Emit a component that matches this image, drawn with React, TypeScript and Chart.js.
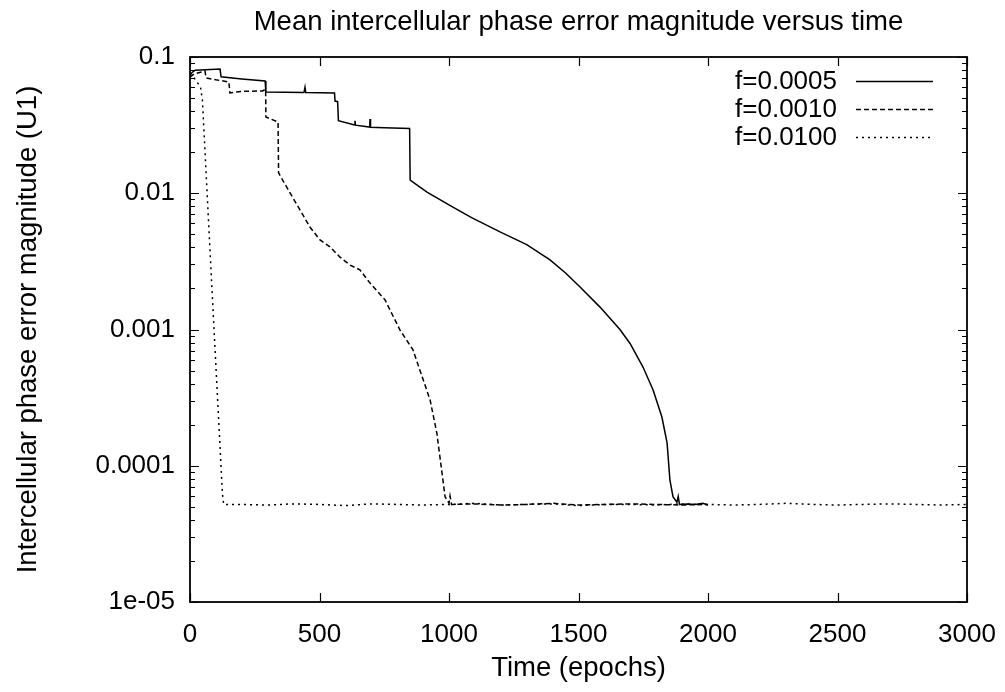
import React, { useEffect, useRef } from 'react';
import { Chart, registerables } from 'chart.js';

Chart.register(...registerables);

const FONT = "'Liberation Sans', Arial, Helvetica, sans-serif";

const titleText = 'Mean intercellular phase error magnitude versus time';
const xTitle = 'Time (epochs)';
const yTitle = 'Intercellular phase error magnitude (U1)';

const xTickValues = [0, 500, 1000, 1500, 2000, 2500, 3000];
const yTickValues = [1e-5, 1e-4, 1e-3, 1e-2, 1e-1];
const yTickLabels = ['1e-05', '0.0001', '0.001', '0.01', '0.1'];

const seriesLabels = ['f=0.0005', 'f=0.0010', 'f=0.0100'];

// f = 0.0005 (solid)
const tA = [0, 8, 20, 60, 116, 120, 200, 290, 293, 440, 444, 447, 558, 560, 570, 573, 636, 637, 639, 694, 695, 697, 750, 848, 850, 915, 1015, 1089, 1197, 1300, 1390, 1450, 1506, 1583, 1660, 1699, 1749, 1788, 1822, 1842, 1853, 1865, 1880, 1885, 1890, 1920, 1950, 1980, 2000];
const vA = [0.074, 0.077, 0.08, 0.0805, 0.0815, 0.0715, 0.069, 0.0667, 0.0553, 0.0548, 0.06, 0.0548, 0.0544, 0.0475, 0.047, 0.0341, 0.0317, 0.034, 0.0316, 0.0306, 0.035, 0.0305, 0.0303, 0.0299, 0.0125, 0.0102, 0.0079, 0.0066, 0.0052, 0.0042, 0.00324, 0.0026, 0.00205, 0.00146, 0.001, 0.00079, 0.00053, 0.00036, 0.000228, 0.000147, 0.0000785, 0.000059, 0.000054, 0.0000595, 0.000052, 0.0000525, 0.000052, 0.000053, 0.0000515];

// f = 0.0010 (dashed)
const tB = [0, 15, 58, 62, 100, 150, 154, 200, 280, 292, 293, 340, 342, 398, 425, 463, 502, 541, 579, 618, 656, 695, 753, 811, 861, 927, 953, 973, 985, 1000, 1004, 1010, 1100, 1200, 1300, 1400, 1500, 1600, 1700, 1800, 1900, 2000];
const vB = [0.071, 0.075, 0.0789, 0.0702, 0.068, 0.0656, 0.0545, 0.056, 0.0563, 0.058, 0.0363, 0.0333, 0.0141, 0.0092, 0.00753, 0.00565, 0.00454, 0.00403, 0.0034, 0.00297, 0.00274, 0.00219, 0.00165, 0.00099, 0.000708, 0.000304, 0.000174, 0.0000885, 0.000059, 0.000053, 0.00006, 0.000052, 0.0000525, 0.0000515, 0.000052, 0.000053, 0.0000515, 0.000052, 0.0000525, 0.000052, 0.0000515, 0.000052];

// f = 0.0100 (dotted)
const tC = [0, 10, 25, 40, 48, 60, 80, 100, 115, 125, 130, 200, 300, 400, 500, 600, 700, 800, 900, 1000, 1100, 1200, 1300, 1400, 1500, 1600, 1700, 1800, 1900, 2000, 2100, 2200, 2300, 2400, 2500, 2600, 2700, 2800, 2900, 3000];
const vC = [0.076, 0.073, 0.066, 0.061, 0.048, 0.017, 0.003, 0.00054, 0.00015, 0.000063, 0.000052, 0.000052, 0.0000515, 0.0000525, 0.000052, 0.000051, 0.0000525, 0.000052, 0.0000515, 0.000052, 0.000053, 0.0000515, 0.000052, 0.0000525, 0.000051, 0.000052, 0.000052, 0.0000515, 0.0000525, 0.000052, 0.0000515, 0.000052, 0.000053, 0.000052, 0.0000515, 0.000052, 0.0000525, 0.000052, 0.0000515, 0.000052];

const dashes: number[][] = [[], [5, 3], [2, 4]];

const toPoints = (t: number[], v: number[]) => t.map((x, i) => ({ x, y: v[i] }));

const framePlugin = {
  id: 'gnuplotFrame',
  afterDraw(chart: any) {
    const ctx = chart.ctx as CanvasRenderingContext2D;
    const { left, right, top, bottom } = chart.chartArea;
    const xs = chart.scales.x;
    const ys = chart.scales.y;
    ctx.save();
    ctx.strokeStyle = '#000';
    ctx.lineWidth = 1.2;
    ctx.setLineDash([]);
    ctx.beginPath();
    const major = 9;
    const minor = 5;
    for (const v of xTickValues) {
      const px = Math.round(xs.getPixelForValue(v)) + 0.5;
      ctx.moveTo(px, bottom);
      ctx.lineTo(px, bottom - major);
      ctx.moveTo(px, top);
      ctx.lineTo(px, top + major);
    }
    for (let i = 0; i < yTickValues.length; i++) {
      const d = yTickValues[i];
      const py = Math.round(ys.getPixelForValue(d)) + 0.5;
      ctx.moveTo(left, py);
      ctx.lineTo(left + major, py);
      ctx.moveTo(right, py);
      ctx.lineTo(right - major, py);
      if (i < yTickValues.length - 1) {
        for (let m = 2; m <= 9; m++) {
          const pm = Math.round(ys.getPixelForValue(d * m)) + 0.5;
          ctx.moveTo(left, pm);
          ctx.lineTo(left + minor, pm);
          ctx.moveTo(right, pm);
          ctx.lineTo(right - minor, pm);
        }
      }
    }
    ctx.stroke();
    ctx.lineWidth = 1.8;
    ctx.strokeRect(left, top, right - left, bottom - top);

    // key
    ctx.font = `26px ${FONT}`;
    ctx.fillStyle = '#000';
    ctx.textAlign = 'right';
    ctx.textBaseline = 'middle';
    chart.data.datasets.forEach((ds: any, i: number) => {
      const y = top + 24 + i * 28;
      ctx.fillText(ds.label, right - 130, y + 1);
      ctx.beginPath();
      ctx.lineWidth = 1.5;
      ctx.setLineDash(ds.borderDash || []);
      ctx.moveTo(right - 111, y + 0.5);
      ctx.lineTo(right - 34, y + 0.5);
      ctx.stroke();
    });
    ctx.restore();
  },
};

export default function App() {
  const canvasRef = useRef<HTMLCanvasElement | null>(null);

  useEffect(() => {
    if (!canvasRef.current) return;
    Chart.defaults.font.family = FONT;
    const series = [toPoints(tA, vA), toPoints(tB, vB), toPoints(tC, vC)];
    const chart = new Chart(canvasRef.current, {
      type: 'line',
      data: {
        datasets: series.map((data, i) => ({
          label: seriesLabels[i],
          data,
          borderColor: '#000',
          backgroundColor: '#000',
          borderWidth: 1.5,
          borderDash: dashes[i],
          pointRadius: 0,
          tension: 0,
          fill: false,
        })),
      },
      options: {
        animation: false,
        responsive: false,
        devicePixelRatio: 1,
        events: [],
        layout: { padding: { top: 0, right: 38, bottom: 0, left: 0 } },
        plugins: {
          legend: { display: false },
          tooltip: { enabled: false },
          title: {
            display: true,
            text: titleText,
            fullSize: false,
            color: '#000',
            font: { size: 27.5, weight: 'normal', lineHeight: 1.2, family: FONT },
            padding: { top: 5.5, bottom: 18.5 },
          },
        },
        scales: {
          x: {
            type: 'linear',
            min: 0,
            max: 3000,
            afterBuildTicks: (s: any) => {
              s.ticks = xTickValues.map((value) => ({ value }));
            },
            afterFit: (s: any) => {
              s.height = 90;
              s.paddingLeft = 0;
              s.paddingRight = 0;
            },
            grid: { display: false, drawTicks: false },
            border: { display: false },
            ticks: {
              color: '#000',
              padding: 17.4,
              maxRotation: 0,
              autoSkip: false,
              font: { size: 26, lineHeight: 1.2, family: FONT },
              callback: (v: any) => String(v),
            },
            title: {
              display: true,
              text: xTitle,
              color: '#000',
              font: { size: 27.5, lineHeight: 1.2, family: FONT },
              padding: { top: 0, bottom: 7.5 },
            },
          },
          y: {
            type: 'logarithmic',
            min: 1e-5,
            max: 0.1,
            afterBuildTicks: (s: any) => {
              s.ticks = yTickValues.map((value) => ({ value }));
            },
            afterFit: (s: any) => {
              s.width = 190;
              s.paddingTop = 0;
              s.paddingBottom = 0;
            },
            grid: { display: false, drawTicks: false },
            border: { display: false },
            ticks: {
              color: '#000',
              padding: 15,
              autoSkip: false,
              font: { size: 26, lineHeight: 1.2, family: FONT },
              callback: (_v: any, i: number) => yTickLabels[i],
            },
            title: {
              display: true,
              text: yTitle,
              color: '#000',
              font: { size: 27.5, lineHeight: 1.2, family: FONT },
              padding: { top: 11.5, bottom: 0 },
            },
          },
        },
      } as any,
      plugins: [framePlugin],
    });
    return () => chart.destroy();
  }, []);

  return (
    <div style={{ position: 'absolute', left: 0, top: 0, width: 1005, height: 692, background: '#fff' }}>
      <canvas ref={canvasRef} width={1005} height={692} style={{ display: 'block' }} />
    </div>
  );
}
